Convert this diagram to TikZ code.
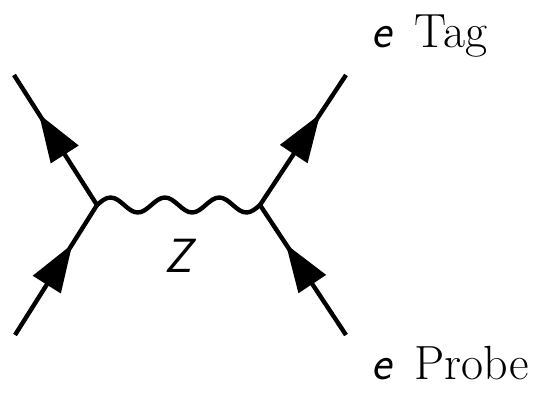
\documentclass[tikz,border=0pt]{standalone}
\usetikzlibrary{arrows.meta,decorations.markings}
\begin{document}
\begin{tikzpicture}[x=0.5pt,y=-0.5pt,line width=2.2pt,
  fermion/.style={postaction={decorate},decoration={markings,
    mark=at position 0.7 with {\arrow{Triangle[length=24pt,width=16pt]}}}},
  lbl/.style={font=\fontsize{24}{28}\selectfont,inner sep=0pt}]
\useasboundingbox (0,0) rectangle (547,392);

% vertices and external legs
\coordinate (vl) at (97,205);
\coordinate (vr) at (260,205);
\coordinate (inl) at (15,335);
\coordinate (outl) at (14,75);
\coordinate (inr) at (346,335);
\coordinate (outr) at (346,75);

\draw[fermion] (inl) -- (vl);
\draw[fermion] (vl) -- (outl);
\draw[fermion] (inr) -- (vr);
\draw[fermion] (vr) -- (outr);
% Z propagator, three periods
\draw (vl) \foreach \k in {1,2,3} {
  sin ++(13.583,-7.5) cos ++(13.583,7.5) sin ++(13.583,7.5) cos ++(13.583,-7.5)};

\node[lbl,anchor=base] (zlab) at (181,272) {\textsf{\textit{Z}}};
\node[lbl,anchor=base west] (tag) at (369,47) {\textsf{\textit{e}}\hspace{0.45em}Tag};
\node[lbl,anchor=base west] (probe) at (369,379) {\textsf{\textit{e}}\hspace{0.45em}Probe};
\end{tikzpicture}
\end{document}
